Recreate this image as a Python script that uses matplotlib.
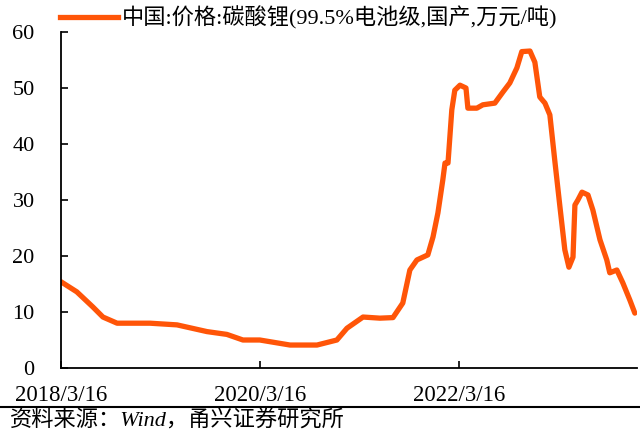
import pandas as pd
import matplotlib
matplotlib.use('Agg')
import matplotlib.pyplot as plt
from matplotlib.lines import Line2D

plt.rcParams['font.family'] = ['Liberation Serif', 'Noto Sans CJK SC']

# price of lithium carbonate
dates = ['2018-03-16', '2018-05-13', '2018-07-11', '2018-08-17', '2018-10-08',
         '2019-02-06', '2019-05-16', '2019-09-03', '2019-11-15', '2020-01-13',
         '2020-03-15', '2020-07-04', '2020-10-11', '2020-12-23', '2021-01-29',
         '2021-03-29', '2021-05-30', '2021-07-17', '2021-08-22', '2021-09-17',
         '2021-10-13', '2021-11-22', '2021-12-11', '2021-12-29', '2022-01-16',
         '2022-01-24', '2022-02-04', '2022-02-18', '2022-03-01', '2022-03-20',
         '2022-04-11', '2022-04-18', '2022-05-21', '2022-06-12', '2022-07-26',
         '2022-08-25', '2022-09-19', '2022-10-15', '2022-11-02', '2022-12-02',
         '2022-12-20', '2023-01-07', '2023-01-26', '2023-02-13', '2023-03-03',
         '2023-03-22', '2023-04-09', '2023-04-24', '2023-05-09', '2023-05-16',
         '2023-05-27', '2023-06-11', '2023-07-03', '2023-07-21', '2023-08-16',
         '2023-09-10', '2023-09-21', '2023-10-17', '2023-11-08', '2023-12-04',
         '2023-12-22']
prices = [15.4, 13.6, 10.9, 9.1, 8.0,
          8.0, 7.7, 6.5, 6.0, 5.0,
          5.0, 4.1, 4.1, 5.0, 7.1,
          9.1, 8.9, 9.0, 11.6, 17.5,
          19.3, 20.2, 23.4, 27.7, 33.6,
          36.6, 36.6, 46.1, 49.6, 50.5,
          50.0, 46.4, 46.4, 47.0, 47.3,
          49.3, 50.9, 53.6, 56.5, 56.6,
          54.6, 48.4, 47.3, 45.2, 37.1,
          28.8, 21.1, 18.0, 19.8, 29.1,
          30.0, 31.4, 30.9, 28.2, 22.9,
          19.3, 17.0, 17.5, 15.2, 12.1,
          9.8]

tick_dates = ['2018-03-16', '2020-03-16', '2022-03-16']
tick_labels = ['2018/3/16', '2020/3/16', '2022/3/16']
series_name = '中国:价格:碳酸锂(99.5%电池级,国产,万元/吨)'
source = '资料来源：Wind，甬兴证券研究所'

x = pd.to_datetime(dates)

fig = plt.figure(figsize=(6.4, 4.34), dpi=100)
ax = fig.add_axes([61/640, 66/434, 576/640, 336/434])

ax.plot(x, prices, color='#FF5508', lw=3.8, solid_capstyle='round',
        solid_joinstyle='round', label=series_name)

ax.set_xlim(pd.Timestamp('2018-03-16'), pd.Timestamp('2023-12-30'))
ax.set_ylim(0, 60)
ax.set_yticks(range(0, 61, 10))
ax.set_xticks(pd.to_datetime(tick_dates))
ax.set_xticklabels(tick_labels)

for s in ['top', 'right']:
    ax.spines[s].set_visible(False)
for s in ['left', 'bottom']:
    ax.spines[s].set_linewidth(1.3)

ax.tick_params(axis='y', direction='in', length=5, width=1.2, pad=19,
               labelsize=16)
ax.tick_params(axis='x', direction='in', length=5, width=1.2, pad=12,
               labelsize=16.5)

fig.legend(handles=[Line2D([], [], color='#FF5508', lw=3.8)],
           labels=[series_name], loc='center left',
           bbox_to_anchor=(60/640, 1 - 18/434), frameon=False,
           handlelength=2.6, handletextpad=0.2, fontsize=16,
           borderaxespad=0, borderpad=0)

fig.add_artist(Line2D([0, 1], [1 - 407/434, 1 - 407/434], color='black',
                      lw=1.5, transform=fig.transFigure))
fig.text(10/640, 1 - 421/434, source, fontsize=16, va='center',
         ha='left', style='italic')

fig.savefig('out.png', dpi=100)
